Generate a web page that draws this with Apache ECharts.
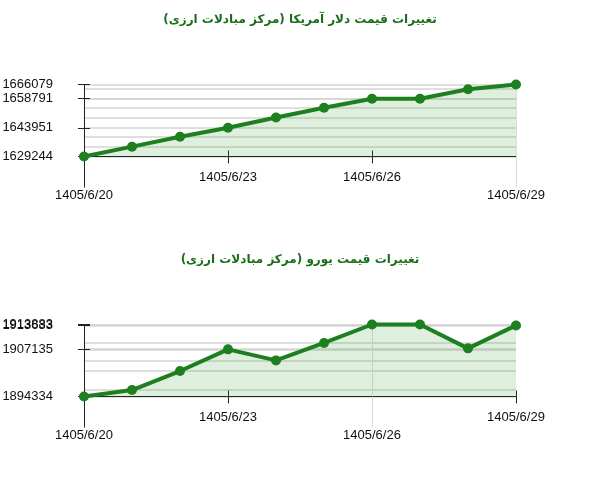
<!DOCTYPE html>
<html>
<head>
<meta charset="utf-8">
<script src="https://cdn.jsdelivr.net/npm/echarts@6/dist/echarts.min.js"></script>
<style>html,body{margin:0;padding:0;background:#fff}#c{width:600px;height:480px}</style>
</head>
<body>
<div id="c"></div>
<script>
const dates = ['1405/6/20','1405/6/21','1405/6/22','1405/6/23','1405/6/24','1405/6/25','1405/6/26','1405/6/27','1405/6/28','1405/6/29'];
const usdTitle = 'تغییرات قیمت دلار آمریکا (مرکز مبادلات ارزی)';
const eurTitle = 'تغییرات قیمت یورو (مرکز مبادلات ارزی)';
const usdValues = [1629244, 1634276, 1639309, 1643951, 1649166, 1654146, 1658791, 1658791, 1663693, 1666079];
const eurValues = [1894334, 1896077, 1901253, 1907135, 1904140, 1908880, 1913883, 1913883, 1907409, 1913633];
const labelIdx = [0, 3, 6, 9];
const usdLowIdx = [0, 9];
const eurLowIdx = [0, 6];

const FONT = "'Liberation Sans', Arial, sans-serif";
const LINE = '#1d7f1d';
const GRIDC = '#d4d4d4';

function rtl(s){ return '\u200F' + s + '\u200F'; }

const xAxes = [], yAxes = [], series = [];
function addChart(g, values, lowIdx){
  const isLow = i => lowIdx.indexOf(i) >= 0;
  const isHigh = i => labelIdx.indexOf(i) >= 0 && !isLow(i);
  const labelVals = labelIdx.map(i => values[i]);
  const mainLabelVals = labelVals.slice(0, -1);
  const lastLabelVals = labelVals.slice(-1);
  const mn = Math.min(...values), mx = Math.max(...values);
  const base = {gridIndex:g, type:'category', data:dates, boundaryGap:false, position:'bottom'};
  const xi = xAxes.length;
  xAxes.push(Object.assign({}, base, {
    axisLine:{show:true, onZero:false, lineStyle:{color:'#222', width:1}},
    axisTick:{show:true, interval:(i)=>isHigh(i), length:7, lineStyle:{color:'#222'}},
    axisLabel:{interval:(i)=>isHigh(i), margin:14, fontSize:13, color:'#111', fontFamily:FONT},
    splitLine:{show:false}
  }));
  xAxes.push(Object.assign({}, base, {
    axisLine:{show:false, onZero:false},
    axisTick:{show:true, inside:true, interval:(i)=>isHigh(i), length:6, lineStyle:{color:'#222'}},
    axisLabel:{show:false}, splitLine:{show:false}
  }));
  xAxes.push(Object.assign({}, base, {
    axisLine:{show:false, onZero:false},
    axisTick:{show:true, interval:(i)=>isLow(i) && i!==0, length:31, lineStyle:{color:'#d8d8d8'}},
    axisLabel:{interval:(i)=>isLow(i), margin:32, fontSize:13, color:'#111', fontFamily:FONT},
    splitLine:{show:true, interval:(i)=>isLow(i) && i!==0, lineStyle:{color:'#dcdcdc', width:1}}
  }));
  xAxes.push(Object.assign({}, base, {
    axisLine:{show:false, onZero:false},
    axisTick:{show:true, interval:(i)=>i===0, length:31, lineStyle:{color:'#222'}},
    axisLabel:{show:false}, splitLine:{show:false}
  }));
  const yb = {gridIndex:g, type:'value', min:mn, max:mx, position:'left'};
  const yLabel = (vals) => ({customValues:vals, showMinLabel:true, showMaxLabel:true, hideOverlap:false,
      formatter:(v)=>String(Math.round(v)),
      margin:31, fontSize:13, color:'#111', fontFamily:FONT, padding:[0,0,8,0]});
  const yi = yAxes.length;
  yAxes.push(Object.assign({}, yb, {
    axisLine:{show:true, onZero:false, lineStyle:{color:'#222', width:1}},
    axisTick:{show:true, customValues:labelVals, length:6, lineStyle:{color:'#222'}},
    axisLabel:yLabel(mainLabelVals),
    splitLine:{show:false}
  }));
  yAxes.push(Object.assign({}, yb, {
    axisLine:{show:false},
    axisTick:{show:true, inside:true, customValues:labelVals, length:6, lineStyle:{color:'#222'}},
    axisLabel:yLabel(lastLabelVals), splitLine:{show:false}
  }));
  yAxes.push(Object.assign({}, yb, {
    axisLine:{show:false},
    axisTick:{show:true, customValues:values.slice(), length:0, lineStyle:{color:'rgba(0,0,0,0)'}},
    axisLabel:{show:false},
    splitLine:{show:true, lineStyle:{color:GRIDC, width:1.5}}
  }));
  series.push({
    type:'line', xAxisIndex:xi, yAxisIndex:yi, data:values,
    symbol:'circle', symbolSize:10, clip:false,
    lineStyle:{color:LINE, width:4}, itemStyle:{color:LINE},
    areaStyle:{origin:'start', color:'rgba(40,150,40,0.22)'},
    animation:false
  });
}
addChart(0, usdValues, usdLowIdx);
addChart(1, eurValues, eurLowIdx);

const chart = echarts.init(document.getElementById('c'));
chart.setOption({
  animation:false,
  backgroundColor:'#fff',
  title:[
    {text:rtl(usdTitle), left:'center', top:9, textStyle:{fontFamily:"'DejaVu Sans', sans-serif", fontSize:12, fontWeight:'bold', color:'#1a6e1a'}},
    {text:rtl(eurTitle), left:'center', top:249, textStyle:{fontFamily:"'DejaVu Sans', sans-serif", fontSize:12, fontWeight:'bold', color:'#1a6e1a'}}
  ],
  grid:[
    {left:84, top:84.5, width:432, height:72, containLabel:false, outerBoundsMode:'none'},
    {left:84, top:324.5, width:432, height:72, containLabel:false, outerBoundsMode:'none'}
  ],
  xAxis:xAxes,
  yAxis:yAxes,
  series:series
});
</script>
</body>
</html>
